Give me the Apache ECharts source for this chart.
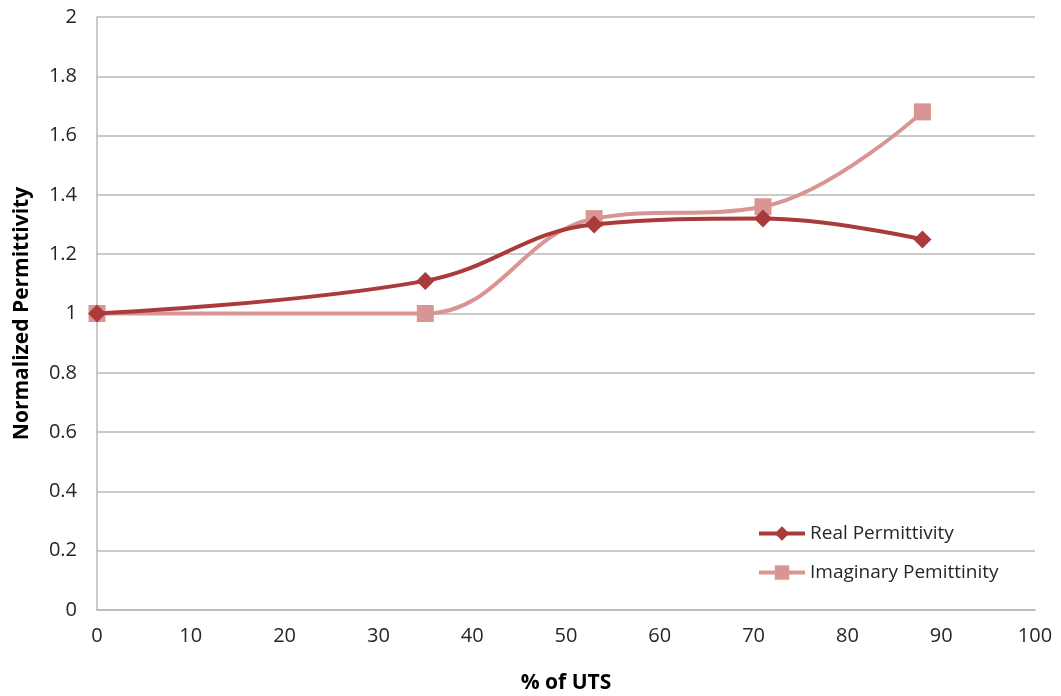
<!DOCTYPE html>
<html><head><meta charset="utf-8">
<script src="https://cdn.jsdelivr.net/npm/echarts@6/dist/echarts.min.js"></script>
<style>html,body{margin:0;padding:0;background:#fff}#c{width:1061px;height:696px}</style>
</head><body><div id="c"></div>
<script>
const xValues = [0, 35, 53, 71, 88];
const realPermittivity = [1.0, 1.11, 1.30, 1.32, 1.25];
const imaginaryPermittivity = [1.0, 1.0, 1.32, 1.36, 1.68];
const seriesNames = ['Real Permittivity', 'Imaginary Pemittinity'];
const xTitle = '% of UTS';
const yTitle = 'Normalized Permittivity';

const chart = echarts.init(document.getElementById('c'));
const font = 'Open Sans, Liberation Sans, sans-serif';
chart.setOption({
  animation: false,
  grid: { left: 97, right: 26, top: 17, bottom: 86, outerBoundsMode: 'none', containLabel: false },
  legend: {
    orient: 'vertical', left: 752, top: 519, itemGap: 20,
    itemWidth: 46, itemHeight: 18,
    lineStyle: { width: 4 },
    textStyle: { fontFamily: font, fontSize: 19, color: '#262626' },
    data: seriesNames
  },
  xAxis: {
    type: 'value', min: 0, max: 100, interval: 10,
    name: xTitle, nameLocation: 'middle', nameGap: 63,
    nameTextStyle: { fontFamily: font, fontSize: 21, fontWeight: 'bold', color: '#000' },
    axisLine: { lineStyle: { color: '#b8b8b8', width: 1.5 } },
    axisTick: { show: false },
    splitLine: { show: false },
    axisLabel: { fontFamily: font, fontSize: 20, color: '#262626', margin: 16 }
  },
  yAxis: {
    type: 'value', min: 0, max: 2, interval: 0.2,
    name: yTitle, nameLocation: 'middle', nameGap: 64,
    nameTextStyle: { fontFamily: font, fontSize: 21, fontWeight: 'bold', color: '#000' },
    axisLine: { show: true, lineStyle: { color: '#b8b8b8', width: 1.5 } },
    axisTick: { show: false },
    splitLine: { lineStyle: { color: '#b8b8b8', width: 1.5 } },
    axisLabel: { fontFamily: font, fontSize: 20, color: '#262626', margin: 20,
      formatter: v => String(Math.round(v * 10) / 10) }
  },
  series: [
    {
      name: seriesNames[0], type: 'line', smooth: 0.4,
      data: xValues.map((x, i) => [x, realPermittivity[i]]),
      symbol: 'diamond', symbolSize: 18,
      lineStyle: { color: '#A93B3A', width: 4 },
      itemStyle: { color: '#A93B3A' }, z: 3
    },
    {
      name: seriesNames[1], type: 'line', smooth: 0.4,
      data: xValues.map((x, i) => [x, imaginaryPermittivity[i]]),
      symbol: 'rect', symbolSize: 17,
      lineStyle: { color: '#D99593', width: 4 },
      itemStyle: { color: '#D99593' }, z: 2
    }
  ]
});
</script></body></html>
